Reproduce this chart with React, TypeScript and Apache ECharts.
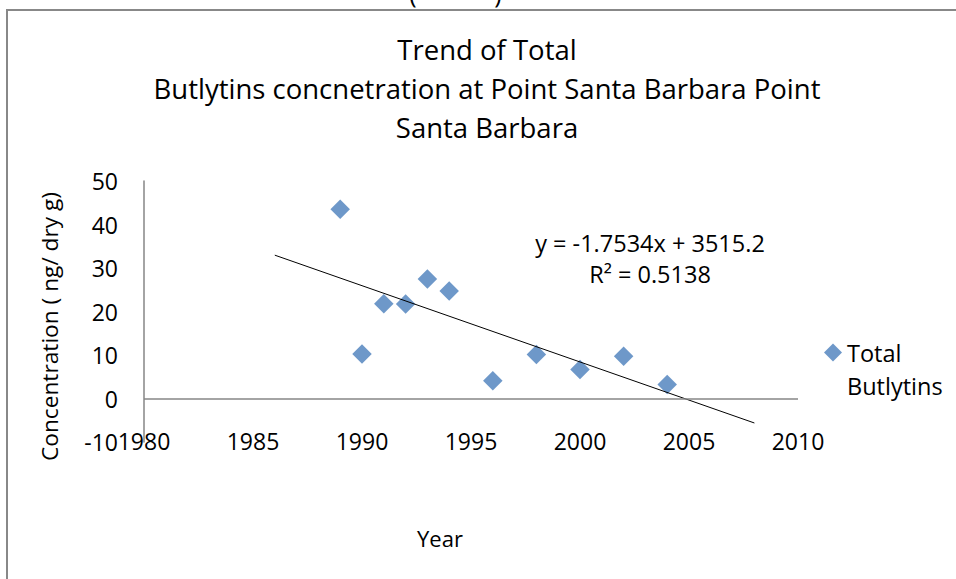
import React, { useEffect, useRef } from "react";
import * as echarts from "echarts";

const years = [1989, 1990, 1991, 1992, 1993, 1994, 1996, 1998, 2000, 2002, 2004];
const concentration = [43.5, 10.25, 21.8, 21.7, 27.5, 24.7, 4.1, 10.1, 6.65, 9.7, 3.2];
const trendYears = [1986, 2008];
const trendValues = [32.95, -5.63];
const equationText = "y = -1.7534x + 3515.2";
const r2Text = "R\u00B2 = 0.5138";
const titleLines = [
  "Trend of Total",
  "Butlytins concnetration at Point Santa Barbara Point",
  "Santa Barbara",
];
const seriesName = "Total Butlytins";
const legendLines = ["\u00a0", "Total", "Butlytins"];
const xAxisTitle = "Year";
const yAxisTitle = "Concentration ( ng/ dry g)";

const FONT = "'Open Sans', Lato, sans-serif";

export default function App() {
  const ref = useRef<HTMLDivElement>(null);
  useEffect(() => {
    if (!ref.current) return;
    const chart = echarts.init(ref.current, null, { renderer: "svg" });
    const scatterData = years.map((y, i) => [y, concentration[i]]);
    const trendData = trendYears.map((y, i) => [y, trendValues[i]]);
    chart.setOption({
      animation: false,
      backgroundColor: "#ffffff",
      textStyle: { fontFamily: FONT },
      title: {
        text: titleLines.join("\n"),
        left: 487,
        top: 30,
        padding: 0,
        textAlign: "center",
        textStyle: {
          fontFamily: FONT,
          fontSize: 27.5,
          fontWeight: "normal",
          color: "#000",
          lineHeight: 39,
        },
      },
      legend: {
        data: [seriesName],
        left: 824,
        top: 303,
        padding: 0,
        orient: "vertical",
        itemWidth: 18,
        itemHeight: 18,
        itemGap: 0,
        formatter: () => legendLines.join("\n"),
        textStyle: {
          fontFamily: FONT,
          fontSize: 23.5,
          color: "#000",
          lineHeight: 33,
        },
      },
      grid: { left: 144, right: 158, top: 181, bottom: 137, containLabel: false },
      xAxis: {
        type: "value",
        min: 1980,
        max: 2010,
        interval: 5,
        name: xAxisTitle,
        nameLocation: "middle",
        nameGap: 85,
        nameTextStyle: {
          fontFamily: FONT,
          fontSize: 22,
          color: "#000",
          padding: [0, 62, 0, 0],
        },
        axisLine: { show: false, onZero: false },
        axisTick: { show: false },
        splitLine: { show: false },
        axisLabel: {
          fontFamily: FONT,
          fontSize: 23,
          color: "#000",
          margin: -1,
          verticalAlign: "middle",
          formatter: (v: number) => String(v),
        },
      },
      yAxis: {
        type: "value",
        min: -10,
        max: 50,
        interval: 10,
        name: yAxisTitle,
        nameLocation: "middle",
        nameRotate: 90,
        nameGap: 83,
        nameTextStyle: {
          fontFamily: FONT,
          fontSize: 22.7,
          color: "#000",
          padding: [0, 30, 0, 0],
        },
        axisLine: { show: true, onZero: false, lineStyle: { color: "#868686", width: 1.5 } },
        axisTick: { show: false },
        splitLine: { show: false },
        axisLabel: {
          fontFamily: FONT,
          fontSize: 23,
          color: "#000",
          margin: 26,
        },
      },
      series: [
        {
          name: seriesName,
          type: "scatter",
          symbol: "diamond",
          symbolSize: 19.5,
          itemStyle: { color: "#4A7EBB" },
          data: scatterData,
          z: 3,
          markLine: {
            silent: true,
            symbol: "none",
            label: { show: false },
            lineStyle: { color: "#868686", width: 1.5, type: "solid" },
            data: [{ yAxis: 0 }],
          },
        },
        {
          name: "Linear trend",
          type: "line",
          data: trendData,
          showSymbol: false,
          symbol: "none",
          lineStyle: { color: "#000", width: 1 },
          z: 4,
        },
      ],
      graphic: [
        {
          type: "line",
          shape: { x1: 7, y1: 10, x2: 7, y2: 579 },
          style: { stroke: "#888888", lineWidth: 2 },
          silent: true,
        },
        {
          type: "line",
          shape: { x1: 6, y1: 10, x2: 956, y2: 10 },
          style: { stroke: "#888888", lineWidth: 2 },
          silent: true,
        },
        {
          type: "text",
          x: 413,
          y: 5,
          style: {
            text: "(",
            fontFamily: FONT,
            fontSize: 25,
            fill: "#000",
            align: "center",
            verticalAlign: "bottom",
          },
        },
        {
          type: "text",
          x: 498,
          y: 5,
          style: {
            text: ")",
            fontFamily: FONT,
            fontSize: 25,
            fill: "#000",
            align: "center",
            verticalAlign: "bottom",
          },
        },
        {
          type: "text",
          x: 650,
          y: 243,
          style: {
            text: equationText,
            fontFamily: FONT,
            fontSize: 23.5,
            fill: "#000",
            align: "center",
            verticalAlign: "middle",
          },
        },
        {
          type: "text",
          x: 650,
          y: 274,
          style: {
            text: r2Text,
            fontFamily: FONT,
            fontSize: 23.5,
            fill: "#000",
            align: "center",
            verticalAlign: "middle",
          },
        },
      ],
    });
    return () => chart.dispose();
  }, []);
  return (
    <div
      ref={ref}
      style={{ position: "fixed", left: 0, top: 0, width: 956, height: 579 }}
    />
  );
}
